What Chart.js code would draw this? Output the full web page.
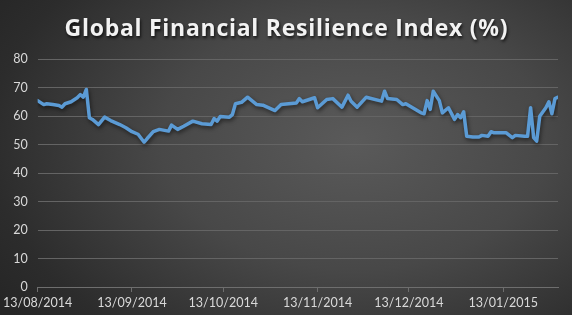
<!DOCTYPE html>
<html>
<head>
<meta charset="utf-8">
<script src="https://cdn.jsdelivr.net/npm/chart.js@4"></script>
<style>
  html, body { margin: 0; padding: 0; }
  body {
    width: 572px; height: 315px; overflow: hidden;
    background: radial-gradient(ellipse 75% 90% at 62% 45%, #5a5a5a 0%, #484848 45%, #2c2c2c 85%, #262626 100%);
  }
  #wrap { position: relative; width: 572px; height: 315px; }
</style>
</head>
<body>
<div id="wrap"><canvas id="c" width="572" height="315"></canvas></div>
<script>
const chartTitle = 'Global Financial Resilience Index (%)';
const dates = [
  '2014-08-13','2014-08-15','2014-08-16','2014-08-18','2014-08-20','2014-08-21','2014-08-22','2014-08-24',
  '2014-08-26','2014-08-27','2014-08-28','2014-08-29','2014-08-30','2014-08-31','2014-09-02','2014-09-04',
  '2014-09-06','2014-09-09','2014-09-11','2014-09-13','2014-09-15','2014-09-17','2014-09-18','2014-09-20',
  '2014-09-22','2014-09-25','2014-09-26','2014-09-28','2014-09-30','2014-10-03','2014-10-06','2014-10-09',
  '2014-10-10','2014-10-11','2014-10-12','2014-10-15','2014-10-16','2014-10-17','2014-10-19','2014-10-21',
  '2014-10-24','2014-10-26','2014-10-30','2014-11-01','2014-11-06','2014-11-07','2014-11-08','2014-11-12',
  '2014-11-13','2014-11-16','2014-11-18','2014-11-21','2014-11-23','2014-11-24','2014-11-26','2014-11-29',
  '2014-12-04','2014-12-05','2014-12-06','2014-12-09','2014-12-11','2014-12-12','2014-12-17','2014-12-18',
  '2014-12-19','2014-12-20','2014-12-21','2014-12-23','2014-12-24','2014-12-26','2014-12-28','2014-12-29',
  '2014-12-30','2014-12-31','2015-01-01','2015-01-03','2015-01-05','2015-01-06','2015-01-08','2015-01-09',
  '2015-01-10','2015-01-14','2015-01-16','2015-01-17','2015-01-20','2015-01-21','2015-01-22','2015-01-23',
  '2015-01-24','2015-01-25','2015-01-27','2015-01-28','2015-01-29','2015-01-30','2015-01-31'
];
const values = [
  65.4, 64.0, 64.3, 64.0, 63.7, 63.1, 64.3, 65.0,
  66.4, 67.5, 66.6, 69.3, 59.4, 58.8, 57.0, 59.6,
  58.4, 57.0, 55.9, 54.5, 53.6, 50.8, 52.1, 54.5,
  55.3, 54.7, 56.8, 55.3, 56.4, 58.2, 57.3, 57.0,
  59.1, 58.2, 59.8, 59.6, 60.5, 64.3, 64.8, 66.6,
  64.0, 63.8, 61.9, 64.0, 64.6, 66.1, 65.0, 66.4,
  62.9, 65.8, 66.1, 63.1, 67.3, 65.2, 63.1, 66.6,
  65.2, 68.7, 66.1, 65.8, 64.0, 64.3, 61.1, 60.8,
  65.4, 62.3, 68.7, 65.4, 61.1, 62.9, 58.8, 60.5,
  59.4, 61.5, 52.9, 52.6, 52.6, 53.2, 52.9, 54.5,
  54.1, 54.1, 52.4, 53.2, 52.9, 52.9, 62.9, 52.4,
  51.2, 59.9, 62.9, 65.0, 60.8, 66.1, 66.6
];
const axisStart = '2014-08-13';
const axisEnd = '2015-01-31';
const tickDates = ['2014-08-13','2014-09-13','2014-10-13','2014-11-13','2014-12-13','2015-01-13'];
const tickLabels = ['13/08/2014','13/09/2014','13/10/2014','13/11/2014','13/12/2014','13/01/2015'];
const yTicks = [0, 10, 20, 30, 40, 50, 60, 70, 80];

function dayOf(s) {
  const p = s.split('-').map(Number);
  const b = axisStart.split('-').map(Number);
  return (Date.UTC(p[0], p[1] - 1, p[2]) - Date.UTC(b[0], b[1] - 1, b[2])) / 86400000;
}
const points = dates.map((d, i) => ({ x: dayOf(d), y: values[i] }));
const tickDays = tickDates.map(dayOf);

const FONT = 'Lato, "Open Sans", sans-serif';
const TITLE_FONT = '"Open Sans", Lato, sans-serif';

const titlePlugin = {
  id: 'shadowTitle',
  afterDraw(chart) {
    const ctx = chart.ctx;
    ctx.save();
    ctx.font = 'bold 23px ' + TITLE_FONT;
    ctx.textAlign = 'center';
    ctx.textBaseline = 'alphabetic';
    const n = chartTitle.length - 1;
    const w0 = ctx.measureText(chartTitle).width;
    const sp = Math.max(0, (443 - w0) / n);
    if ('letterSpacing' in ctx) ctx.letterSpacing = sp.toFixed(2) + 'px';
    ctx.shadowColor = 'rgba(0,0,0,0.75)';
    ctx.shadowBlur = 3;
    ctx.shadowOffsetX = 1;
    ctx.shadowOffsetY = 2;
    ctx.fillStyle = '#f2f2f2';
    ctx.fillText(chartTitle, 286 + sp / 2, 36);
    ctx.restore();
  }
};
const lineShadow = {
  id: 'lineShadow',
  beforeDatasetsDraw(chart) {
    const ctx = chart.ctx;
    ctx.save();
    ctx.shadowColor = 'rgba(0,0,0,0.55)';
    ctx.shadowBlur = 4;
    ctx.shadowOffsetX = 1;
    ctx.shadowOffsetY = 2;
  },
  afterDatasetsDraw(chart) {
    chart.ctx.restore();
  }
};

new Chart(document.getElementById('c'), {
  type: 'line',
  data: {
    datasets: [{
      data: points,
      borderColor: '#5b9bd5',
      borderWidth: 3.5,
      pointRadius: 0,
      tension: 0,
      borderJoinStyle: 'round',
      borderCapStyle: 'round',
      fill: false
    }]
  },
  options: {
    responsive: false,
    animation: false,
    devicePixelRatio: 1,
    layout: { padding: { top: 59, right: 14, left: 0, bottom: 0 } },
    plugins: { legend: { display: false }, tooltip: { enabled: false }, title: { display: false } },
    scales: {
      x: {
        type: 'linear',
        min: dayOf(axisStart),
        max: dayOf(axisEnd),
        afterBuildTicks(scale) { scale.ticks = tickDays.map(v => ({ value: v })); },
        afterFit(scale) { scale.height = 28; },
        ticks: {
          autoSkip: false,
          maxRotation: 0,
          color: '#d9d9d9',
          font: { family: FONT, size: 12.5 },
          padding: 3,
          callback(value) { const i = tickDays.indexOf(value); return i >= 0 ? tickLabels[i] : ''; }
        },
        grid: { drawOnChartArea: false, drawTicks: true, tickLength: 5, color: '#6e6e6e', lineWidth: 1 },
        border: { display: true, color: '#6e6e6e', width: 1 }
      },
      y: {
        min: 0,
        max: 80,
        afterBuildTicks(scale) { scale.ticks = yTicks.map(v => ({ value: v })); },
        afterFit(scale) { scale.width = 35; },
        ticks: {
          color: '#d9d9d9',
          font: { family: FONT, size: 12.5 },
          padding: 10
        },
        grid: { drawTicks: false, color: '#646464', lineWidth: 1 },
        border: { display: false }
      }
    }
  },
  plugins: [titlePlugin, lineShadow]
});
</script>
</body>
</html>
